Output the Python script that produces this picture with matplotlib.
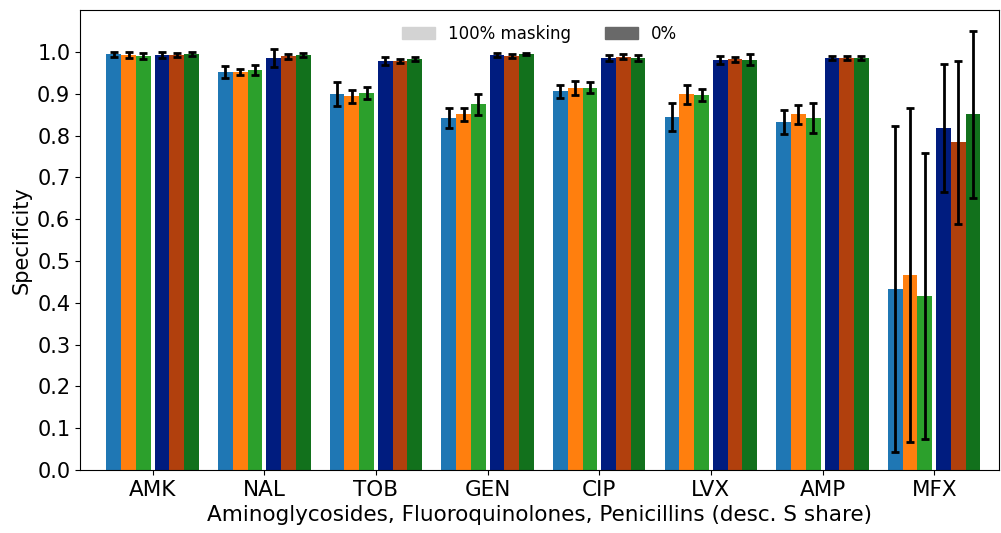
import numpy as np
import matplotlib
matplotlib.use("Agg")
import matplotlib.pyplot as plt
from matplotlib.patches import Patch

drugs = ["AMK", "NAL", "TOB", "GEN", "CIP", "LVX", "AMP", "MFX"]

# 100% masking runs (3 models)
mask_a = [0.995, 0.952, 0.899, 0.842, 0.906, 0.844, 0.832, 0.434]
mask_b = [0.993, 0.952, 0.894, 0.851, 0.914, 0.899, 0.851, 0.467]
mask_c = [0.990, 0.957, 0.902, 0.875, 0.914, 0.897, 0.842, 0.417]
mask_a_err = [0.006, 0.014, 0.029, 0.025, 0.016, 0.033, 0.028, 0.390]
mask_b_err = [0.007, 0.007, 0.016, 0.015, 0.016, 0.023, 0.023, 0.400]
mask_c_err = [0.008, 0.011, 0.014, 0.025, 0.013, 0.014, 0.035, 0.342]

# 0% masking runs
zero_a = [0.993, 0.986, 0.978, 0.993, 0.986, 0.981, 0.986, 0.818]
zero_b = [0.993, 0.990, 0.978, 0.990, 0.988, 0.983, 0.986, 0.784]
zero_c = [0.995, 0.993, 0.983, 0.995, 0.986, 0.981, 0.986, 0.851]
zero_a_err = [0.008, 0.021, 0.010, 0.005, 0.007, 0.009, 0.005, 0.153]
zero_b_err = [0.004, 0.006, 0.005, 0.005, 0.006, 0.006, 0.005, 0.195]
zero_c_err = [0.005, 0.004, 0.004, 0.002, 0.007, 0.013, 0.005, 0.200]

light = ["#1f77b4", "#ff7f0e", "#2ca02c"]
dark = ["#001c7f", "#b1400d", "#12711c"]

x = np.arange(len(drugs))
w = 0.132
gap = 0.036

fig, ax = plt.subplots(figsize=(10.01, 5.33), dpi=100)
fig.subplots_adjust(left=0.08, right=0.998, top=0.981, bottom=0.118)

ekw = dict(ecolor="black", elinewidth=2, capsize=3, capthick=2)
left_sets = [(mask_a, mask_a_err), (mask_b, mask_b_err), (mask_c, mask_c_err)]
right_sets = [(zero_a, zero_a_err), (zero_b, zero_b_err), (zero_c, zero_c_err)]
for k, (vals, err) in enumerate(left_sets):
    off = -gap / 2 - w / 2 - (2 - k) * w
    ax.bar(x + off, vals, w, yerr=err, color=light[k], error_kw=ekw)
for k, (vals, err) in enumerate(right_sets):
    off = gap / 2 + w / 2 + k * w
    ax.bar(x + off, vals, w, yerr=err, color=dark[k], error_kw=ekw)

ax.set_xlim(-0.65, 7.58)
ax.set_ylim(0, 1.1)
ax.set_yticks(np.arange(0, 1.01, 0.1))
ax.set_xticks(x)
ax.set_xticklabels(drugs, fontsize=15.5)
ax.tick_params(axis="y", labelsize=15)
ax.set_ylabel("Specificity", fontsize=15)
ax.set_xlabel("Aminoglycosides, Fluoroquinolones, Penicillins (desc. S share)", fontsize=15.5)

handles = [Patch(color="lightgray", label="100% masking"),
           Patch(color="dimgray", label="0%")]
ax.legend(handles=handles, loc="upper center", ncol=2, frameon=False, fontsize=12)

plt.savefig("out.png", dpi=100)
